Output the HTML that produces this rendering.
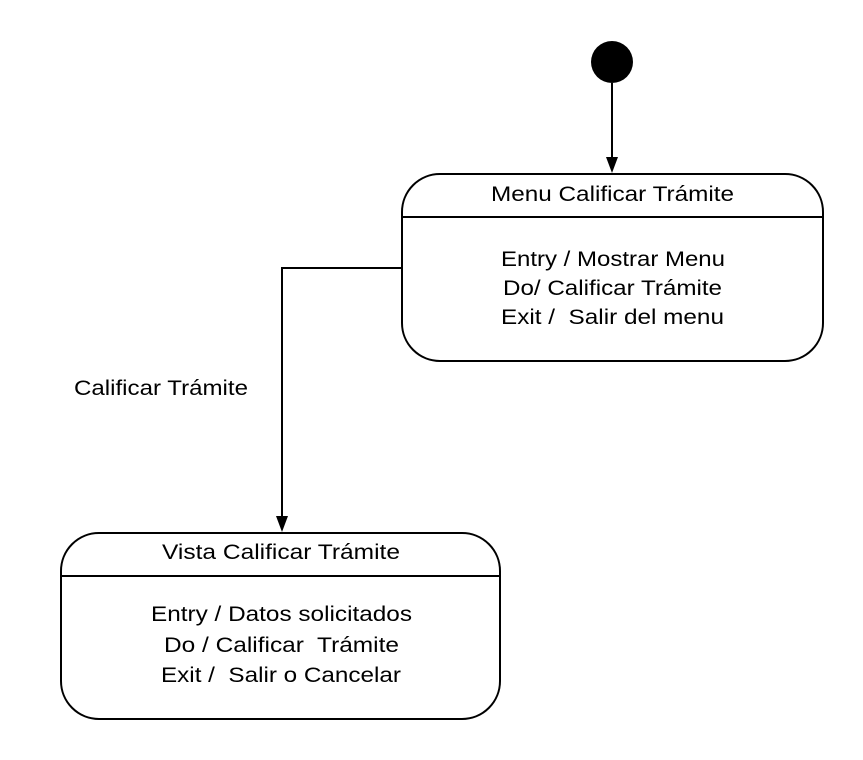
<!DOCTYPE html>
<html><head><meta charset="utf-8"><style>body{margin:0;background:#fff}</style></head><body>
<svg width="863" height="760" xmlns="http://www.w3.org/2000/svg" style="display:block" font-family="Liberation Sans, sans-serif" font-size="21" fill="#000">
<rect width="863" height="760" fill="#fff"/>
<circle cx="612" cy="62" r="21" fill="#000"/>
<line x1="612" y1="83" x2="612" y2="158" stroke="#000" stroke-width="2"/>
<polygon points="606,157 618,157 612,173" fill="#000"/>
<rect x="402" y="174" width="421" height="187" rx="38" ry="38" fill="#fff" stroke="#000" stroke-width="2"/>
<line x1="402" y1="217" x2="823" y2="217" stroke="#000" stroke-width="2"/>
<text x="491" y="201" textLength="243" lengthAdjust="spacingAndGlyphs">Menu Calificar Trámite</text>
<text x="501" y="266" textLength="224" lengthAdjust="spacingAndGlyphs">Entry / Mostrar Menu</text>
<text x="503" y="295" textLength="219" lengthAdjust="spacingAndGlyphs">Do/ Calificar Trámite</text>
<text x="501" y="324" textLength="223" lengthAdjust="spacingAndGlyphs" xml:space="preserve">Exit /  Salir del menu</text>
<polyline points="402,268 282,268 282,517" fill="none" stroke="#000" stroke-width="2"/>
<polygon points="276,516 288,516 282,532" fill="#000"/>
<text x="74" y="395" textLength="174" lengthAdjust="spacingAndGlyphs">Calificar Trámite</text>
<rect x="61" y="533" width="439" height="186" rx="38" ry="38" fill="#fff" stroke="#000" stroke-width="2"/>
<line x1="61" y1="576" x2="500" y2="576" stroke="#000" stroke-width="2"/>
<text x="162" y="559" textLength="238" lengthAdjust="spacingAndGlyphs">Vista Calificar Trámite</text>
<text x="151" y="621" textLength="261" lengthAdjust="spacingAndGlyphs">Entry / Datos solicitados</text>
<text x="164" y="652" textLength="235" lengthAdjust="spacingAndGlyphs" xml:space="preserve">Do / Calificar  Trámite</text>
<text x="161" y="682" textLength="240" lengthAdjust="spacingAndGlyphs" xml:space="preserve">Exit /  Salir o Cancelar</text>
</svg>
</body></html>
